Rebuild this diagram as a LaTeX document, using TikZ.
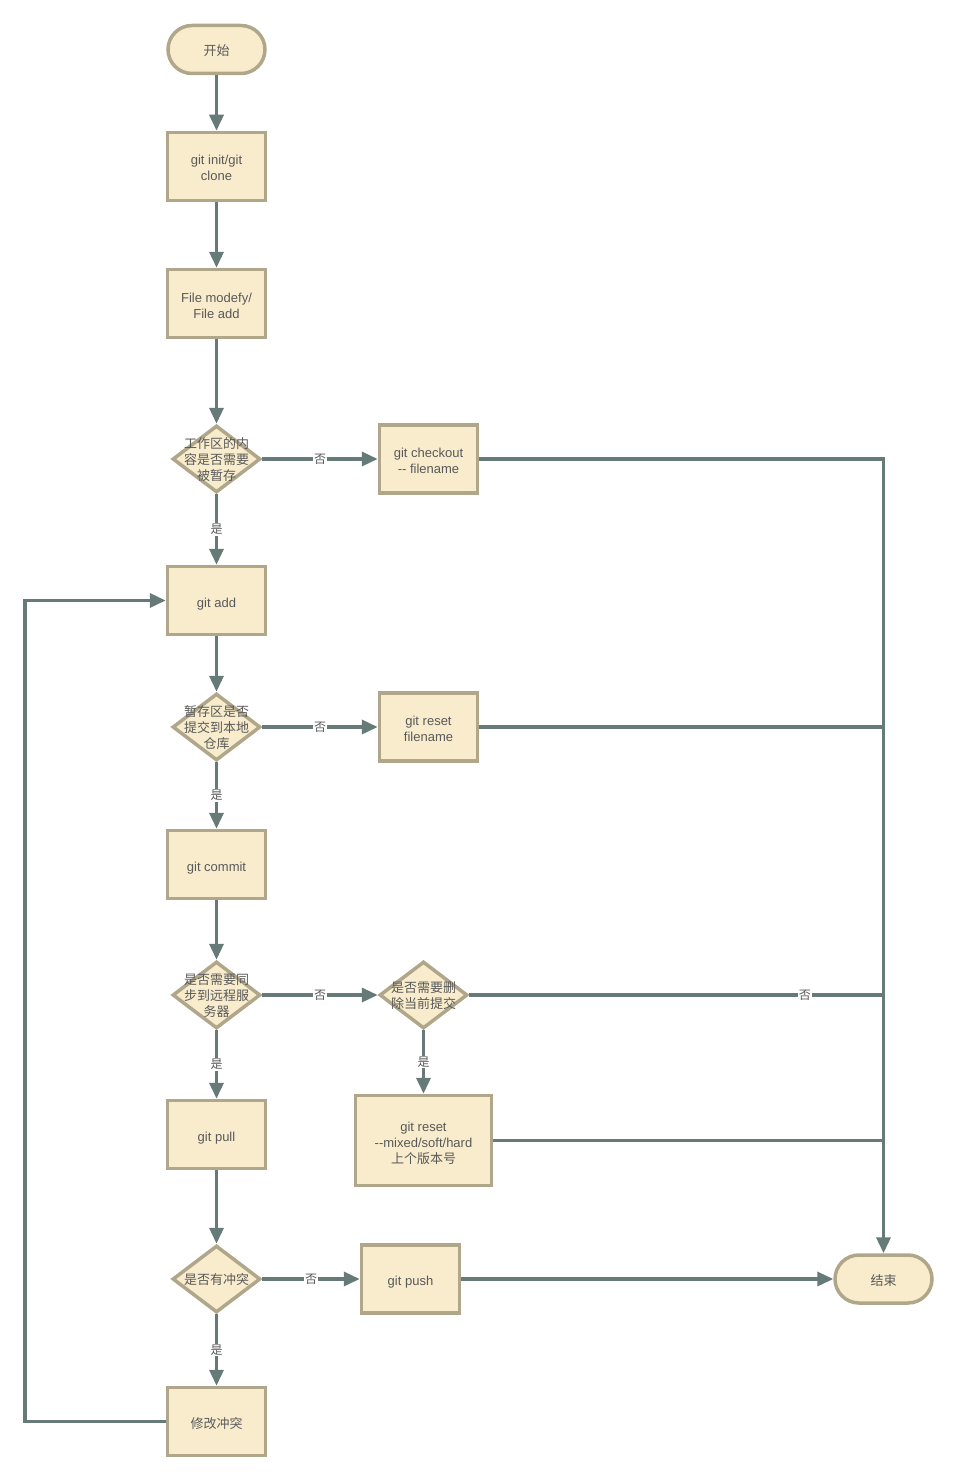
\documentclass[tikz,border=0pt]{standalone}
\usepackage{fontspec}
\setmainfont{Liberation Sans}
\newfontfamily\cjk{Noto Sans CJK SC}
\usetikzlibrary{shapes.geometric,arrows.meta}
\definecolor{boxfill}{HTML}{F8ECCD}
\definecolor{boxline}{HTML}{B0A68A}
\definecolor{flowline}{HTML}{667A77}
\definecolor{txt}{HTML}{595959}

\begin{document}
\begin{tikzpicture}[x=1pt,y=-1pt,
  every node/.style={font=\fontsize{13}{16}\selectfont,text=txt},
  term/.style={draw=boxline,fill=boxfill,line width=3.5pt,rounded corners=24pt,minimum width=97pt,minimum height=48pt,oneline},
  proc/.style={draw=boxline,fill=boxfill,line width=3.5pt,minimum width=98pt,minimum height=68pt,align=center},
  oneline/.style={text height=13pt,text depth=0pt},
  twoline/.style={text height=29pt,text depth=0pt},
  dec/.style={draw=boxline,fill=boxfill,line width=3.5pt,diamond,minimum width=88pt,minimum height=67pt,inner sep=0pt},
  dectext/.style={align=center,inner sep=0pt,font=\cjk\fontsize{13}{16}\selectfont},
  yn/.style={fill=white,inner sep=1pt,font=\cjk\fontsize{12}{14}\selectfont},
  flow/.style={draw=flowline,line width=3.5pt},
  arr/.style={flow,-{Triangle[length=16pt,width=14pt]}}]
\useasboundingbox (0,0) rectangle (959,1482);

\node[term] (start) at (216.5,49.5) {\cjk 开始};
\node[proc,twoline] (init) at (216.5,166.5) {git init/git\\clone};
\node[proc,twoline] (modify) at (216.5,303.5) {File modefy/\\File add};
\node[dec] (d1) at (216.5,459) {};
\node[dectext] (d1t) at (216.5,460) {工作区的内\\容是否需要\\被暂存};
\node[proc,twoline] (checkout) at (428.5,459) {git checkout\\-\kern0pt- filename};
\node[proc,oneline] (add) at (216.5,600.5) {git add};
\node[dec] (d2) at (216.5,727) {};
\node[dectext] (d2t) at (216.5,728) {暂存区是否\\提交到本地\\仓库};
\node[proc,twoline] (resetf) at (428.5,727) {git reset\\filename};
\node[proc,oneline] (commit) at (216.5,864.5) {git commit};
\node[dec] (d3) at (216.5,995) {};
\node[dectext] (d3t) at (216.5,996) {是否需要同\\步到远程服\\务器};
\node[dec] (d4) at (423.5,995) {};
\node[dectext] (d4t) at (423.5,996) {是否需要删\\除当前提交};
\node[proc,minimum width=136pt,minimum height=90pt,text height=45pt,text depth=0pt] (resetm) at (423.5,1140.5) {git reset\\-\kern0pt-mixed/soft/hard\\{\cjk 上个版本号}};
\node[proc,oneline] (pull) at (216.5,1134.5) {git pull};
\node[dec] (d5) at (216.5,1279) {};
\node[dectext] (d5t) at (216.5,1280) {是否有冲突};
\node[proc,oneline] (push) at (410.5,1279) {git push};
\node[term] (stop) at (883.5,1279) {\cjk 结束};
\node[proc,oneline] (fix) at (216.5,1421.5) {\cjk 修改冲突};
\coordinate (back) at (25,600.5);

\draw[arr] (start.south) -- (init.north);
\draw[arr] (init.south) -- (modify.north);
\draw[arr] (modify.south) -- (d1.north);
\draw[arr] (d1.east) -- node[yn]{否} (checkout.west);
\draw[arr] (d1.south) -- node[yn]{是} (add.north);
\draw[arr] (add.south) -- (d2.north);
\draw[arr] (d2.east) -- node[yn]{否} (resetf.west);
\draw[arr] (d2.south) -- node[yn]{是} (commit.north);
\draw[arr] (commit.south) -- (d3.north);
\draw[arr] (d3.east) -- node[yn]{否} (d4.west);
\draw[arr] (d3.south) -- node[yn]{是} (pull.north);
\draw[arr] (d4.south) -- node[yn]{是} (resetm.north);
\draw[arr] (pull.south) -- (d5.north);
\draw[arr] (d5.east) -- node[yn]{否} (push.west);
\draw[arr] (d5.south) -- node[yn]{是} (fix.north);
\draw[arr] (push.east) -- (stop.west);
\draw[arr] (checkout.east) -| (stop.north);
\draw[flow] (resetf.east) -- (resetf.east -| stop.north);
\draw[flow] (d4.east) -- node[yn,pos=0.81]{否} (d4.east -| stop.north);
\draw[flow] (resetm.east) -- (resetm.east -| stop.north);
\draw[arr] (fix.west) -| (back) -- (add.west);
\end{tikzpicture}
\end{document}
